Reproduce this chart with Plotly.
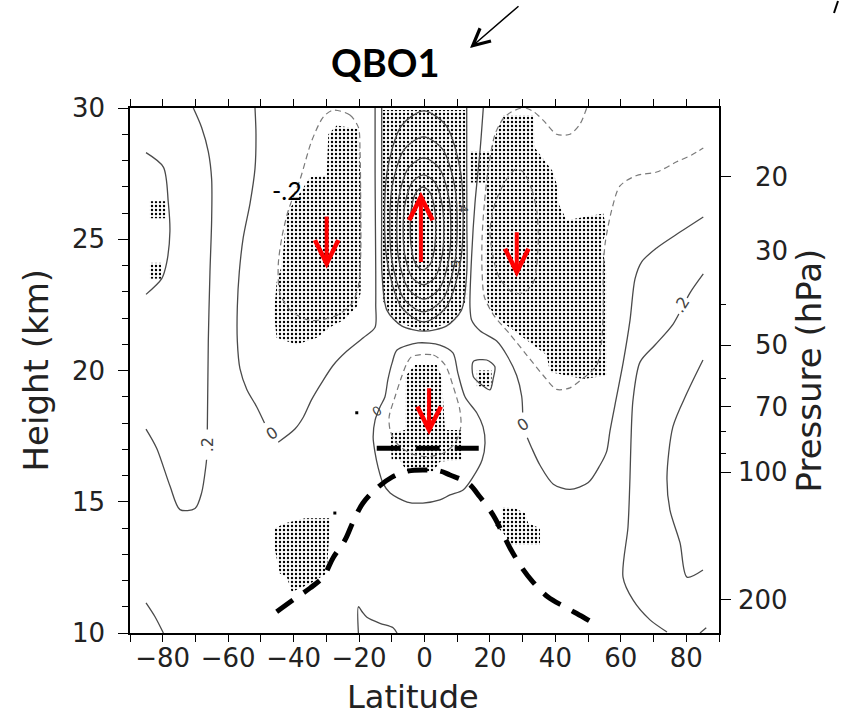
import math
import plotly.graph_objects as go

# ---------------- axis / tick data ----------------
lat_ticks = [-80, -60, -40, -20, 0, 20, 40, 60, 80]
lat_ticktext = ["−80", "−60", "−40", "−20", "0", "20", "40", "60", "80"]
lat_minor = [-90, -70, -50, -30, -10, 10, 30, 50, 70, 90]
height_ticks = [10, 15, 20, 25, 30]
height_minor = [11, 12, 13, 14, 16, 17, 18, 19, 21, 22, 23, 24, 26, 27, 28, 29]
pressure_labels = [20, 30, 50, 70, 100, 200]
pressure_major = [20, 50, 70, 100, 200]
pressure_minor = [40, 60, 80, 90]
scale_height_km = 7.0


def p_to_z(p):
    return scale_height_km * math.log(1000.0 / p)


# ---------------- solid contours (lat, km) ----------------
ca_lat = [-85.1, -79.8, -78.3, -77.8, -78.8, -80.3, -85.1]
ca_z = [28.3, 27.75, 26.4, 25.3, 24.1, 23.5, 22.9]

cb1_lat = [-70.65, -68.11, -66.07, -65.05, -65.05, -65.56, -66.07, -66.37]
cb1_z = [30.0, 29.26, 28.34, 27.29, 25.72, 23.75, 21.12, 17.75]
cb2_lat = [-66.6, -66.78, -68.11, -70.14, -74.73, -77.78, -81.85, -85.11]
cb2_z = [16.6, 16.39, 15.34, 14.74, 14.70, 15.60, 17.04, 17.77]

cc1_lat = [-51.8, -51.5, -51.8, -53.3, -55.4, -56.6, -57.2, -57.2, -56.4, -54.3, -51.3, -48.9]
cc1_z = [30.0, 29.01, 27.69, 26.38, 25.06, 23.75, 22.43, 21.12, 20.07, 19.28, 18.62, 18.0]
cc2_lat = [-44.7, -39.6, -37.0, -34.5, -31.4, -27.9, -23.8, -18.7, -15.1, -14.9, -14.9, -15.0, -15.1, -15.1]
cc2_z = [17.27, 17.77, 18.23, 18.89, 19.54, 20.20, 20.73, 21.25, 21.65, 22.5, 23.8, 25.5, 27.5, 30.0]

# nested contours of the equatorial maximum
p1_lat = [-13.08, -13.08, -13.1, -13.0, -11.5, -7.0, -0.1, 6.8, 11.3, 12.9, 12.95, 12.9, 12.9]
p1_z = [30.0, 28.0, 25.5, 23.7, 22.3, 21.7, 21.5, 21.7, 22.3, 23.7, 25.5, 28.0, 30.0]
p2_lat = [-0.2, 6.61, 11.15, 11.15, 6.61, -0.2, -7.01, -11.55, -11.55, -7.01, -0.2]
p2_z = [29.89, 29.33, 27.48, 24.26, 22.41, 21.85, 22.41, 24.26, 27.48, 29.33, 29.89]
p3_lat = [-0.31, 5.52, 9.41, 9.41, 5.52, -0.31, -6.14, -10.03, -10.03, -6.14, -0.31]
p3_z = [28.90, 28.43, 26.90, 24.23, 22.70, 22.23, 22.70, 24.23, 26.90, 28.43, 28.90]
p4_lat = [-0.21, 4.46, 7.58, 7.58, 4.46, -0.21, -4.88, -8.0, -8.0, -4.88, -0.21]
p4_z = [28.10, 27.72, 26.49, 24.33, 23.10, 22.72, 23.10, 24.33, 26.49, 27.72, 28.10]
p5_lat = [-0.3, 3.22, 5.56, 5.56, 3.22, -0.3, -3.82, -6.17, -6.17, -3.82, -0.3]
p5_z = [27.45, 27.16, 26.19, 24.52, 23.55, 23.26, 23.55, 24.52, 26.19, 27.16, 27.45]
p6_lat = [-0.46, 1.74, 3.21, 3.21, 1.74, -0.46, -2.66, -4.13, -4.13, -2.66, -0.46]
p6_z = [26.99, 26.77, 26.04, 24.78, 24.05, 23.83, 24.05, 24.78, 26.04, 26.77, 26.99]

cj1_lat = [17.97, 16.96, 15.43, 14.42, 13.9, 14.42, 16.96, 22.06, 25.12, 28.17, 29.70, 30.0]
cj1_z = [30.0, 28.35, 26.38, 24.40, 22.43, 21.91, 21.51, 21.12, 20.59, 19.81, 19.02, 18.4]
cj2_lat = [31.42, 32.76, 35.30, 39.37, 44.46, 50.06, 53.63, 55.68, 56.69, 58.73, 60.75, 62.80,
           64.33, 66.37, 70.96, 77.07, 85.2]
cj2_z = [17.44, 17.05, 16.39, 15.67, 15.47, 15.73, 16.39, 16.92, 17.70, 19.02, 20.33, 21.91,
         23.49, 24.14, 24.67, 25.19, 25.85]

cg_lat = [-8.4, -2.0, 4.7, 8.7, 10.2, 12.4, 16.0, 17.9, 18.5, 17.6, 14.8, 11.8, 7.8, 4.7, -0.5,
          -5.3, -10.5, -12.7, -14.2, -15.1, -15.7, -15.1, -13.6, -12.1, -11.2, -9.9, -8.4]
cg_z = [20.78, 21.05, 20.97, 20.67, 19.90, 18.99, 18.38, 17.85, 17.24, 16.59, 15.94, 15.45, 15.26,
        15.07, 14.95, 14.99, 15.33, 15.71, 16.32, 16.86, 17.47, 18.11, 18.61, 18.99, 19.64, 20.29, 20.78]

ch_lat = [14.9, 19.0, 21.5, 21.0, 20.0, 16.9, 14.9, 14.9]
ch_z = [20.34, 20.40, 20.15, 19.70, 19.26, 19.51, 19.77, 20.34]

cl_lat = [85.2, 81.14, 76.04, 70.44, 65.86, 63.72, 63.11, 62.8, 62.19, 60.66, 63.72, 68.91, 74.11]
cl_z = [23.68, 22.96, 21.78, 20.97, 20.32, 18.88, 17.35, 15.94, 14.04, 12.13, 11.26, 10.50, 10.04]

cm_lat = [85.1, 80.2, 75.9, 74.1, 75.0, 78.1, 80.2, 85.1]
cm_z = [20.4, 19.14, 17.85, 15.94, 14.69, 13.43, 12.13, 12.40]

ce_lat = [-85.1, -82.4, -79.8]
ce_z = [11.15, 10.63, 10.0]

cf_lat = [-20.2, -20.2, -19.0, -17.6, -13.6, -9.6, -8.4]
cf_z = [10.0, 11.0, 10.8, 10.6, 10.37, 10.2, 10.0]

ck_lat = [84.2, 86.1]
ck_z = [10.0, 10.2]

# ---------------- dashed (negative) contours ----------------
dd_lat = [-27.9, -22.8, -20.2, -19.7, -19.5, -19.5, -20.2, -22.2, -26.8, -35.0, -41.1, -44.2, -44.7,
          -43.6, -41.6, -38.0, -34.5, -30.9, -27.9]
dd_z = [29.92, 29.73, 29.26, 28.35, 26.37, 24.40, 23.22, 22.56, 22.10, 21.91, 22.30, 22.96, 24.01,
        25.06, 26.11, 27.29, 28.74, 29.66, 29.92]

dk1_lat = [29.5, 26.5, 24.08, 21.55, 19.5, 18.3, 17.6, 17.6, 18.3, 21.2, 26.13, 31.23, 36.3, 40.40,
           44.46, 47.52, 52.62, 54.15, 54.64, 54.64, 55.16, 57.20, 59.74, 64.84, 70.96, 77.07, 81.65, 85.2]
dk1_z = [30.0, 29.85, 29.6, 29.0, 27.69, 26.37, 25.06, 23.75, 22.8, 22.1, 21.38, 20.59, 19.81, 19.28,
         19.34, 19.61, 20.20, 21.12, 22.43, 23.75, 24.80, 26.11, 27.03, 27.43, 27.56, 27.95, 28.21, 28.48]
dk2_lat = [31.0, 33.5, 36.3, 40.4, 44.46, 47.52, 49.57]
dk2_z = [30.0, 29.85, 29.53, 29.0, 29.0, 29.39, 30.0]

dkin_lat = [30.2, 32.76, 34.29, 34.78, 34.29, 33.25, 30.2, 27.15, 23.07, 21.06, 20.04, 21.55, 25.12, 28.17, 30.2]
dkin_z = [27.56, 26.90, 26.11, 25.06, 24.01, 23.35, 22.96, 22.96, 23.49, 24.27, 25.33, 26.37, 27.29, 27.69, 27.56]

dg_lat = [-3.9, 2.7, 6.3, 8.8, 10.8, 11.1, 9.3, 5.7, 0.7, -4.4, -8.5, -10.5, -10.8, -9.0, -7.0, -5.4, -3.9]
dg_z = [20.53, 20.59, 20.21, 19.38, 18.50, 17.86, 17.23, 16.85, 16.72, 16.85, 17.23, 17.73, 18.24,
        19.0, 19.76, 20.27, 20.53]

# ---------------- stippled (significant) regions ----------------
s1_lat = [-26.8, -20.2, -19.5, -19.5, -20.7, -24.8, -28.9, -32.9, -39.1, -45.2, -46.0, -45.2, -43.6,
          -42.1, -35.0, -29.9, -29.4]
s1_z = [29.33, 29.2, 27.03, 22.96, 22.43, 21.91, 21.65, 21.25, 20.99, 21.25, 22.17, 23.35, 24.01,
        25.98, 27.36, 27.43, 29.0]
s2a_lat = [-84.0, -79.0, -79.0, -84.0]
s2a_z = [26.45, 26.45, 25.8, 25.8]
s2b_lat = [-84.0, -80.5, -80.5, -84.0]
s2b_z = [24.1, 24.1, 23.5, 23.5]
s3_lat = [-13.0, 13.0, 13.0, 9.1, -0.1, -9.3, -13.0]
s3_z = [29.92, 29.92, 22.72, 21.89, 21.5, 21.89, 22.72]
s4_lat = [24.08, 33.25, 33.77, 39.36, 40.40, 40.89, 43.46, 54.64, 55.68, 54.15, 55.68, 55.68, 48.5,
          38.35, 37.33, 30.19, 23.07, 19.5, 18.49, 18.49, 19.0, 13.9, 13.9, 20.0]
s4_z = [29.73, 29.73, 28.48, 27.56, 27.10, 26.37, 25.72, 25.98, 25.32, 24.80, 23.75, 19.81, 19.68,
        19.94, 20.59, 21.25, 21.91, 22.43, 23.75, 26.37, 27.16, 27.16, 28.35, 28.35]
s5_lat = [-2.9, 3.73, 5.26, 6.26, 11.37, 11.37, 4.74, 2.69, -5.44, -7.49, -10.03, -10.54, -5.96, -5.96]
s5_z = [20.21, 20.21, 19.76, 17.73, 17.73, 16.59, 16.53, 16.15, 16.15, 16.59, 16.59, 17.61, 17.73, 19.76]
s6_lat = [-42.6, -36.5, -28.9, -28.9, -29.9, -34.0, -38.05, -40.6, -42.1, -44.2, -45.7, -45.7]
s6_z = [14.18, 14.37, 14.37, 14.11, 12.27, 11.95, 11.70, 11.57, 12.14, 12.27, 13.16, 13.99]
s7_lat = [23.6, 27.65, 30.7, 31.7, 35.3, 35.3, 26.6, 24.1, 21.0, 24.1]
s7_z = [14.81, 14.75, 14.56, 14.18, 13.99, 13.35, 13.35, 13.8, 14.18, 14.30]
s8_lat = [16.0, 20.5, 20.5, 16.0]
s8_z = [20.0, 20.0, 19.4, 19.4]
stray_lat = [-20.7, -27.4]
stray_z = [18.39, 14.57]

# ---------------- thick dashed reference lines ----------------
tropo_lat = [-45.17, -40.19, -35.0, -31.02, -27.96, -24.3, -21.85, -18.8, -14.52, -9.93, -5.04, 0.15,
             4.74, 7.79, 13.29, 16.96, 20.93, 23.68, 26.13, 29.8, 33.16, 37.74, 42.94, 48.44, 53.63]
tropo_z = [10.81, 11.26, 11.71, 12.13, 12.86, 13.54, 14.23, 14.95, 15.52, 15.94, 16.17, 16.21,
           16.17, 16.02, 15.71, 15.18, 14.50, 13.85, 13.24, 12.48, 11.94, 11.37, 10.99, 10.61, 10.23]
cpt_lat = [-14.6, 17.0]
cpt_z = [17.04, 17.04]

# ---------------- red arrows ----------------
arrow_lat = [-29.9, -1.1, 28.2, 1.4]
arrow_tail_z = [25.92, 24.08, 25.32, 19.38]
arrow_tip_z = [23.88, 26.81, 23.55, 17.54]

SOLID = "#4a4a4a"
DASHC = "#7a7a7a"

fig = go.Figure()


def stipple(lat, z):
    fig.add_trace(go.Scatter(
        x=lat + [lat[0]], y=z + [z[0]], mode="lines", fill="toself",
        fillcolor="rgba(0,0,0,0)", line=dict(width=0, color="rgba(0,0,0,0)"),
        fillpattern=dict(shape=".", size=4, solidity=0.27, fgcolor="black",
                         bgcolor="rgba(0,0,0,0)", fillmode="replace"),
        hoverinfo="skip", showlegend=False))


for la, zz in [(s1_lat, s1_z), (s2a_lat, s2a_z), (s2b_lat, s2b_z), (s3_lat, s3_z), (s4_lat, s4_z),
               (s5_lat, s5_z), (s6_lat, s6_z), (s7_lat, s7_z), (s8_lat, s8_z)]:
    stipple(la, zz)

fig.add_trace(go.Scatter(x=stray_lat, y=stray_z, mode="markers",
                         marker=dict(size=3, color="black", symbol="square"),
                         hoverinfo="skip", showlegend=False))


def cline(lat, z, dash="solid", color=SOLID, width=1.3, smooth=0.8):
    fig.add_trace(go.Scatter(
        x=lat, y=z, mode="lines",
        line=dict(color=color, width=width, dash=dash, shape="spline", smoothing=smooth),
        hoverinfo="skip", showlegend=False))


for la, zz in [(ca_lat, ca_z), (cb1_lat, cb1_z), (cb2_lat, cb2_z), (cc1_lat, cc1_z), (cc2_lat, cc2_z),
               (p1_lat, p1_z), (p2_lat, p2_z), (p3_lat, p3_z), (p4_lat, p4_z), (p5_lat, p5_z),
               (p6_lat, p6_z), (cj1_lat, cj1_z), (cj2_lat, cj2_z), (cg_lat, cg_z), (ch_lat, ch_z),
               (cl_lat, cl_z), (cm_lat, cm_z), (ce_lat, ce_z), (cf_lat, cf_z), (ck_lat, ck_z)]:
    cline(la, zz)

for la, zz in [(dd_lat, dd_z), (dk1_lat, dk1_z), (dk2_lat, dk2_z), (dkin_lat, dkin_z), (dg_lat, dg_z)]:
    cline(la, zz, dash="6px,4px", color=DASHC, width=1.2)

# thick black dashed curves
fig.add_trace(go.Scatter(x=tropo_lat, y=tropo_z, mode="lines",
                         line=dict(color="black", width=5, dash="20px,13px", shape="spline"),
                         hoverinfo="skip", showlegend=False))
fig.add_trace(go.Scatter(x=cpt_lat, y=cpt_z, mode="lines",
                         line=dict(color="black", width=5, dash="24px,15px"),
                         hoverinfo="skip", showlegend=False))

# invisible trace to anchor the pressure axis
fig.add_trace(go.Scatter(x=[0], y=[20], yaxis="y2", mode="markers",
                         marker=dict(opacity=0), hoverinfo="skip", showlegend=False))

annotations = []
# red arrows
for la, zt, zh in zip(arrow_lat, arrow_tail_z, arrow_tip_z):
    annotations.append(dict(x=la, y=zh, ax=la, ay=zt, xref="x", yref="y", axref="x", ayref="y",
                            text="", showarrow=True, arrowhead=5, arrowsize=1.15, arrowwidth=4,
                            arrowcolor="#ff0000", standoff=0))

# contour labels
lab_font = dict(family="DejaVu Sans", size=16, color="#444")
annotations += [
    dict(x=-66.3, y=17.17, text=".2", textangle=-90, font=lab_font, showarrow=False, xref="x", yref="y"),
    dict(x=78.6, y=22.5, text=".2", textangle=-58, font=lab_font, showarrow=False, xref="x", yref="y",
         bgcolor="white"),
    dict(x=-46.7, y=17.6, text="0", textangle=-35, font=lab_font, showarrow=False, xref="x", yref="y"),
    dict(x=-14.6, y=18.43, text="0", textangle=-35, font=dict(family="DejaVu Sans", size=13, color="#444"),
         showarrow=False, xref="x", yref="y"),
    dict(x=30.2, y=17.94, text="0", textangle=-35, font=lab_font, showarrow=False, xref="x", yref="y"),
    dict(x=11.9, y=26.24, text=".4", textangle=90, font=dict(family="DejaVu Sans", size=12, color="#444"),
         showarrow=False, xref="x", yref="y"),
    dict(x=9.3, y=24.14, text=".6", textangle=90, font=dict(family="DejaVu Sans", size=12, color="#444"),
         showarrow=False, xref="x", yref="y"),
    dict(x=-42.1, y=26.88, text="-.2", font=dict(family="Lato", size=25, color="black"),
         showarrow=False, xref="x", yref="y"),
]

# pressure labels on the right
tick_font = dict(family="DejaVu Sans", size=26, color="#222")
for p in pressure_labels:
    annotations.append(dict(x=(790 - 130) / 589, y=p_to_z(p), xref="paper", yref="y", text=str(p),
                            xanchor="right", yanchor="middle", showarrow=False, font=tick_font))

title_font = dict(family="DejaVu Sans", size=34, color="#222")
annotations += [
    dict(x=(35 - 130) / 589, y=0.5, xref="paper", yref="paper", text="Height (km)", textangle=-90,
         showarrow=False, font=title_font, xanchor="center", yanchor="middle"),
    dict(x=(808 - 130) / 589, y=0.5, xref="paper", yref="paper", text="Pressure (hPa)", textangle=-90,
         showarrow=False, font=title_font, xanchor="center", yanchor="middle"),
    dict(x=(413 - 130) / 589, y=(633 - 697) / 525, xref="paper", yref="paper", text="Latitude",
         showarrow=False, font=dict(family="DejaVu Sans", size=32, color="#222"),
         xanchor="center", yanchor="middle"),
    dict(x=(385 - 130) / 589, y=(633 - 62) / 525, xref="paper", yref="paper", text="<b>QBO1</b>",
         showarrow=False, font=dict(family="Lato", size=38, color="black"), xanchor="center", yanchor="middle"),
    # black pointer arrow
    dict(x=(470 - 130) / 589, y=(633 - 48) / 525, xref="paper", yref="paper", ax=50, ay=-43, text="",
         showarrow=True, arrowhead=5, arrowsize=2.2, arrowwidth=1.5, arrowcolor="black", standoff=0),
]

fig.update_layout(
    width=842, height=719,
    margin=dict(l=130, r=123, t=108, b=86),
    paper_bgcolor="white", plot_bgcolor="white", showlegend=False,
    font=dict(family="DejaVu Sans", color="#222"),
    xaxis=dict(range=[-90, 90], tickmode="array", tickvals=lat_ticks, ticktext=lat_ticktext,
               ticks="outside", ticklen=7, tickwidth=1.2, tickcolor="black",
               showline=True, linecolor="black", linewidth=1.5, mirror="allticks",
               showgrid=False, zeroline=False, tickfont=tick_font, ticklabelstandoff=-6,
               minor=dict(tickmode="array", tickvals=lat_minor, ticks="outside", ticklen=5,
                          tickwidth=1.2, tickcolor="black", showgrid=False)),
    yaxis=dict(range=[10, 30], tickmode="array", tickvals=height_ticks, ticks="outside", ticklen=10,
               tickwidth=1.2, tickcolor="black", showline=True, linecolor="black", linewidth=1.5,
               showgrid=False, zeroline=False, tickfont=tick_font, ticklabelstandoff=8,
               minor=dict(tickmode="array", tickvals=height_minor, ticks="outside", ticklen=6,
                          tickwidth=1.2, tickcolor="black", showgrid=False)),
    yaxis2=dict(range=[10, 30], overlaying="y", side="right", anchor="x", tickmode="array",
                tickvals=[p_to_z(p) for p in pressure_major], ticks="outside", ticklen=10,
                tickwidth=1.2, tickcolor="black", showticklabels=False, showline=True,
                linecolor="black", linewidth=1.5, showgrid=False, zeroline=False,
                minor=dict(tickmode="array", tickvals=[p_to_z(p) for p in pressure_minor],
                           ticks="outside", ticklen=5, tickwidth=1.2, tickcolor="black", showgrid=False)),
    annotations=annotations,
    shapes=[dict(type="line", xref="paper", yref="paper", x0=(834 - 130) / 589, y0=(633 - 13) / 525,
                 x1=(838 - 130) / 589, y1=(633 - 1) / 525, line=dict(color="black", width=2))],
)

fig.write_html("out.html")
